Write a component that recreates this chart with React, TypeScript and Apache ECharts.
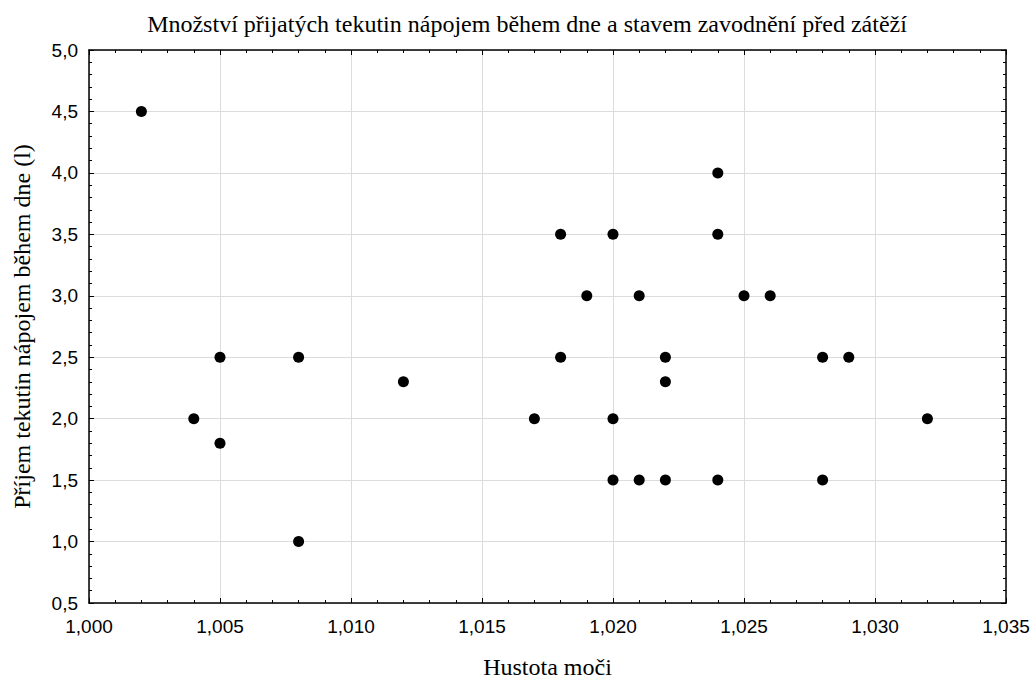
import React, { useEffect, useRef } from "react";
import * as echarts from "echarts";

const titleText = "Množství přijatých tekutin nápojem během dne a stavem zavodnění před zátěží";
const xName = "Hustota moči";
const yName = "Příjem tekutin nápojem během dne (l)";

const xValues = [
  1.002, 1.004, 1.005, 1.005, 1.008, 1.008, 1.012, 1.017, 1.018, 1.018,
  1.019, 1.020, 1.020, 1.020, 1.021, 1.021, 1.022, 1.022, 1.022, 1.024,
  1.024, 1.024, 1.025, 1.026, 1.028, 1.028, 1.029, 1.032,
];
const yValues = [
  4.5, 2.0, 2.5, 1.8, 2.5, 1.0, 2.3, 2.0, 3.5, 2.5,
  3.0, 3.5, 2.0, 1.5, 3.0, 1.5, 2.5, 2.3, 1.5, 4.0,
  3.5, 1.5, 3.0, 3.0, 2.5, 1.5, 2.5, 2.0,
];

const xMin = 1.0, xMax = 1.035, xStep = 0.005;
const yMin = 0.5, yMax = 5.0, yStep = 0.5;

const fmtX = (v: number) => v.toFixed(3).replace(".", ",");
const fmtY = (v: number) => v.toFixed(1).replace(".", ",");

const SANS = "'Liberation Sans', Arial, sans-serif";
const SERIF = "'Liberation Serif', 'Times New Roman', serif";

export default function App() {
  const ref = useRef<HTMLDivElement>(null);
  useEffect(() => {
    if (!ref.current) return;
    const chart = echarts.init(ref.current, undefined, { renderer: "svg" });
    const axisLine = { show: true, lineStyle: { color: "#000", width: 1.5 } };
    const axisTick = { show: true, inside: true, length: 5, lineStyle: { color: "#000", width: 1 } };
    const minorTick = { show: true, splitNumber: 5, length: 3, lineStyle: { color: "#000", width: 1 } };
    const labelFont = { fontFamily: SANS, fontSize: 19, color: "#000" };
    chart.setOption({
      animation: false,
      backgroundColor: "#fff",
      title: {
        text: titleText,
        left: 522,
        textAlign: "center",
        top: 7,
        textStyle: { fontFamily: SERIF, fontSize: 24, fontWeight: "normal", color: "#000" },
      },
      grid: { left: 89, top: 50, right: 27, bottom: 75, containLabel: false },
      xAxis: [
        {
          type: "value",
          min: xMin, max: xMax, interval: xStep,
          position: "bottom",
          name: xName,
          nameLocation: "middle",
          nameGap: 52,
          nameTextStyle: { fontFamily: SERIF, fontSize: 24, color: "#000" },
          axisLine, axisTick, minorTick,
          axisLabel: { ...labelFont, margin: 14, formatter: fmtX },
          splitLine: { show: true, lineStyle: { color: "#dcdcdc", width: 1 } },
        },
        {
          type: "value",
          min: xMin, max: xMax, interval: xStep,
          position: "top",
          axisLine, axisTick, minorTick,
          axisLabel: { show: false },
          splitLine: { show: false },
        },
      ],
      yAxis: [
        {
          type: "value",
          min: yMin, max: yMax, interval: yStep,
          position: "left",
          name: yName,
          nameLocation: "middle",
          nameGap: 55,
          nameRotate: 90,
          nameTextStyle: { fontFamily: SERIF, fontSize: 24, color: "#000" },
          axisLine, axisTick, minorTick,
          axisLabel: { ...labelFont, margin: 11, formatter: fmtY },
          splitLine: { show: true, lineStyle: { color: "#dcdcdc", width: 1 } },
        },
        {
          type: "value",
          min: yMin, max: yMax, interval: yStep,
          position: "right",
          axisLine, axisTick, minorTick,
          axisLabel: { show: false },
          splitLine: { show: false },
        },
      ],
      series: [
        {
          type: "scatter",
          xAxisIndex: 0,
          yAxisIndex: 0,
          symbol: "circle",
          symbolSize: 11,
          itemStyle: { color: "#000", opacity: 1 },
          data: xValues.map((x, i) => [x, yValues[i]]),
        },
      ],
    });
    return () => chart.dispose();
  }, []);
  return (
    <div
      ref={ref}
      style={{ position: "fixed", left: 0, top: 0, width: 1033, height: 684, background: "#fff" }}
    />
  );
}
